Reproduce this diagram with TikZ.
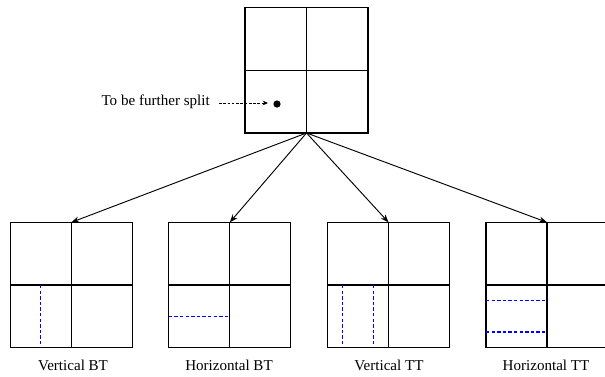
\documentclass[tikz,border=0pt]{standalone}
\usepackage{fontspec}
\setmainfont{Liberation Serif}
\usetikzlibrary{arrows.meta,calc}
\begin{document}
\begin{tikzpicture}[x=0.75pt,y=-0.75pt,
  quad/.style={draw, line width=1pt, minimum width=91.5pt, minimum height=94pt, inner sep=0pt, outer sep=0pt},
  split/.style={blue, line width=0.8pt, dash pattern=on 2.6pt off 1.6pt},
  link/.style={-{Stealth[length=6pt,width=4.5pt]}, line width=0.7pt},
  note/.style={-{Stealth[length=4pt,width=3.5pt]}, line width=0.6pt, dash pattern=on 2pt off 1.2pt},
  lbl/.style={font=\fontsize{11.3}{13}\selectfont, inner sep=0pt, anchor=base}]
\useasboundingbox (0,0) rectangle (605,376);
\begin{scope}
\clip (0,0) rectangle (605,376);
% top square
\node[quad, minimum width=92.25pt] (top) at (306.5,70.3) {};
\draw[line width=1pt] (top.north) -- (top.south) (top.west) -- (top.east);
\fill (277,104) circle (3.6) coordinate (dot);
\node[font=\fontsize{11.3}{13}\selectfont, inner sep=0pt, anchor=east] (txt) at (210,102) {To be further split};
\coordinate (dotw) at (268,103);
\draw[note] ($(txt.east)+(9,1)$) -- (dotw);
% bottom squares
\node[quad] (b1) at (71.3,285) {};
\node[quad] (b2) at (229.8,285) {};
\node[quad] (b3) at (388.5,285) {};
\node[quad] (b4) at (547,285) {};
\foreach \q in {b1,b2,b3,b4}{
  \draw[line width=1pt] (\q.north) -- (\q.south) (\q.west) -- (\q.east);
  \draw[link] (top.south) -- (\q.north);
}
% splits
\draw[split] ($(b1.west)!0.5!(b1.center)$) -- ($(b1.south west)!0.5!(b1.south)$);
\draw[split] ($(b2.west)!0.5!(b2.south west)$) -- ($(b2.center)!0.5!(b2.south)$);
\draw[split] ($(b3.west)!0.25!(b3.center)$) -- ($(b3.south west)!0.25!(b3.south)$);
\draw[split] ($(b3.west)!0.75!(b3.center)$) -- ($(b3.south west)!0.75!(b3.south)$);
\draw[split] ($(b4.west)!0.25!(b4.south west)$) -- ($(b4.center)!0.25!(b4.south)$);
\draw[split] ($(b4.west)!0.75!(b4.south west)$) -- ($(b4.center)!0.75!(b4.south)$);
% labels
\node[lbl] (l1) at (73,370) {Vertical BT};
\node[lbl] (l2) at (229,370) {Horizontal BT};
\node[lbl] (l3) at (389,370) {Vertical TT};
\node[lbl] (l4) at (546,370) {Horizontal TT};
\end{scope}
\end{tikzpicture}
\end{document}
